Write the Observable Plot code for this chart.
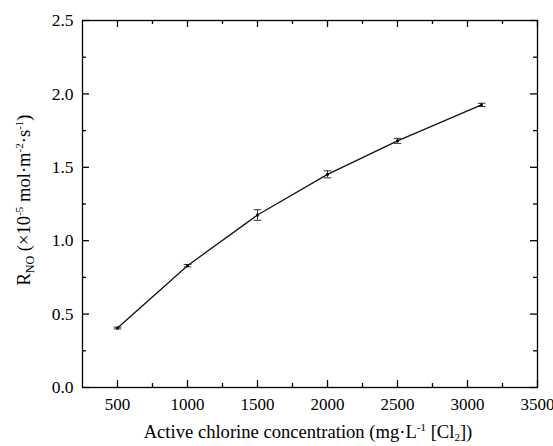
<!DOCTYPE html>
<html>
<head>
<meta charset="utf-8">
<script src="https://cdn.jsdelivr.net/npm/d3@7"></script>
<script src="https://cdn.jsdelivr.net/npm/@observablehq/plot@0.6"></script>
<style>
  html, body { margin: 0; padding: 0; background: #fff; }
  #chart svg { display: block; }
  #chart svg text { font-family: "Liberation Serif", "Times New Roman", serif; }
</style>
</head>
<body>
<div id="chart"></div>
<script>
// Data
const concentration = [500, 1000, 1500, 2000, 2500, 3100];
const rNO = [0.405, 0.83, 1.175, 1.452, 1.68, 1.925];
const rNOError = [0.006, 0.008, 0.036, 0.024, 0.017, 0.011];
const xMajorTicks = [500, 1000, 1500, 2000, 2500, 3000, 3500];
const xMinorTicks = [750, 1250, 1750, 2250, 2750, 3250];
const yMajorTicks = [0, 0.5, 1.0, 1.5, 2.0, 2.5];
const yMinorTicks = [0.25, 0.75, 1.25, 1.75, 2.25];

const data = concentration.map((c, i) => ({x: c, y: rNO[i], e: rNOError[i]}));

const W = 553, H = 446;
const mL = 82, mR = 16, mT = 20, mB = 59;
const plotH = H - mT - mB, plotW = W - mL - mR;
const major = 7, minor = 4;
const FONT = "Liberation Serif";

const capSymbol = {
  draw(ctx, size) {
    const w = 3.8;
    ctx.moveTo(-w, 0);
    ctx.lineTo(w, 0);
  }
};

const chart = Plot.plot({
  width: W,
  height: H,
  marginLeft: mL,
  marginRight: mR,
  marginTop: mT,
  marginBottom: mB,
  style: {fontFamily: FONT, fontSize: "17px", color: "#000", background: "#fff"},
  x: {domain: [250, 3500], axis: null},
  y: {domain: [0, 2.5], axis: null},
  marks: [
    // inward ticks, bottom & top
    Plot.tickX(xMajorTicks, {x: d => d, insetTop: plotH - major, stroke: "#000", strokeWidth: 1.3}),
    Plot.tickX(xMinorTicks, {x: d => d, insetTop: plotH - minor, stroke: "#000", strokeWidth: 1.3}),
    Plot.tickX(xMajorTicks, {x: d => d, insetBottom: plotH - major, stroke: "#000", strokeWidth: 1.3}),
    Plot.tickX(xMinorTicks, {x: d => d, insetBottom: plotH - minor, stroke: "#000", strokeWidth: 1.3}),
    // inward ticks, left & right
    Plot.tickY(yMajorTicks, {y: d => d, insetRight: plotW - major, stroke: "#000", strokeWidth: 1.3}),
    Plot.tickY(yMinorTicks, {y: d => d, insetRight: plotW - minor, stroke: "#000", strokeWidth: 1.3}),
    Plot.tickY(yMajorTicks, {y: d => d, insetLeft: plotW - major, stroke: "#000", strokeWidth: 1.3}),
    Plot.tickY(yMinorTicks, {y: d => d, insetLeft: plotW - minor, stroke: "#000", strokeWidth: 1.3}),
    // tick labels
    Plot.axisX(xMajorTicks, {tickSize: 0, tickPadding: 10, fontSize: 17, fontFamily: FONT, label: null, tickFormat: d => String(d)}),
    Plot.axisY(yMajorTicks, {tickSize: 0, tickPadding: 9, fontSize: 17.5, fontFamily: FONT, label: null, tickFormat: d => d.toFixed(1)}),
    Plot.frame({stroke: "#000", strokeWidth: 1.3}),
    // error bars
    Plot.ruleX(data, {x: "x", y1: d => d.y - d.e, y2: d => d.y + d.e, stroke: "#333", strokeWidth: 1}),
    Plot.dot(data, {x: "x", y: d => d.y - d.e, symbol: capSymbol, r: 3, stroke: "#333", strokeWidth: 1, fill: "none"}),
    Plot.dot(data, {x: "x", y: d => d.y + d.e, symbol: capSymbol, r: 3, stroke: "#333", strokeWidth: 1, fill: "none"}),
    // line
    Plot.line(data, {x: "x", y: "y", stroke: "#111", strokeWidth: 1.3}),
    Plot.dot(data, {x: "x", y: "y", symbol: "square", r: 1.5, fill: "#000"})
  ]
});

document.getElementById("chart").appendChild(chart);

// Axis titles with sub/superscripts as real text
const svg = d3.select(chart);

const xt = svg.append("text")
  .attr("x", 308)
  .attr("y", 438)
  .attr("text-anchor", "middle")
  .attr("font-family", FONT)
  .attr("font-size", 18.6)
  .attr("fill", "#000");
xt.append("tspan").text("Active chlorine concentration (mg·L");
xt.append("tspan").attr("dy", -7).attr("font-size", 11).text("-1");
xt.append("tspan").attr("dy", 7).text(" [Cl");
xt.append("tspan").attr("dy", 3).attr("font-size", 11).text("2");
xt.append("tspan").attr("dy", -3).text("])");

const yt = svg.append("text")
  .attr("transform", `translate(30, ${200}) rotate(-90)`)
  .attr("text-anchor", "middle")
  .attr("font-family", FONT)
  .attr("font-size", 18.6)
  .attr("fill", "#000");
yt.append("tspan").text("R");
yt.append("tspan").attr("dy", 4).attr("font-size", 12).text("NO");
yt.append("tspan").attr("dy", -4).text(" (×10");
yt.append("tspan").attr("dy", -7).attr("font-size", 11).text("-5");
yt.append("tspan").attr("dy", 7).text(" mol·m");
yt.append("tspan").attr("dy", -7).attr("font-size", 11).text("-2");
yt.append("tspan").attr("dy", 7).text("·s");
yt.append("tspan").attr("dy", -7).attr("font-size", 11).text("-1");
yt.append("tspan").attr("dy", 7).text(")");
</script>
</body>
</html>
